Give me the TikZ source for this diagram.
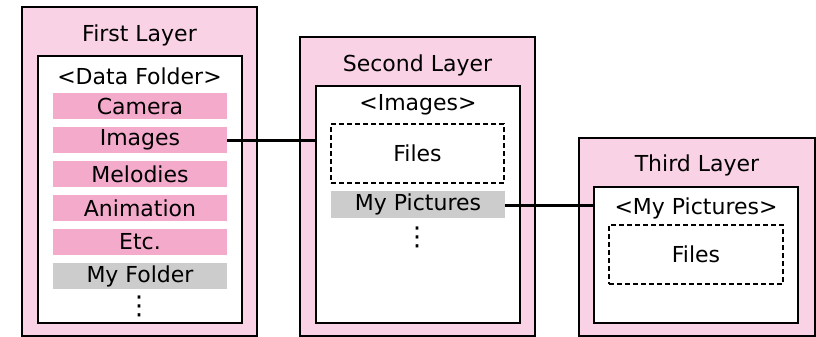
\documentclass[tikz,border=0pt]{standalone}
\usepackage{fontspec}
\setmainfont{DejaVu Sans}
\usepackage{xcolor}
\usepackage{tikz}
\usetikzlibrary{positioning,calc}
\definecolor{layerpink}{HTML}{FAD2E5}
\definecolor{itempink}{HTML}{F4AACB}
\definecolor{itemgray}{HTML}{CCCCCC}
\tikzset{
    layer/.style={rectangle, draw, line width=2pt, fill=layerpink, minimum width=235pt, inner sep=0pt, outer sep=0pt},
    folder/.style={rectangle, draw, line width=2pt, fill=white, minimum width=204pt, inner sep=0pt, outer sep=0pt},
    item/.style={rectangle, fill=itempink, minimum width=174pt, minimum height=26pt, inner sep=0pt, outer sep=0pt},
    myitem/.style={item, fill=itemgray},
    files/.style={rectangle, draw, dashed, dash pattern=on 5pt off 3pt, line width=1.2pt, minimum width=173pt, minimum height=59pt, inner sep=0pt, outer sep=0pt},
    link/.style={draw, line width=3pt},
    label/.style={inner sep=0pt, outer sep=0pt},
    more/.style={inner sep=0pt, outer sep=0pt, font=\fontsize{26}{26}\selectfont}
}

\begin{document}
\begin{tikzpicture}[x=1pt, y=-1pt, font=\fontsize{22}{26}\selectfont, node distance=8pt]
    \useasboundingbox (0,0) rectangle (816,337);

    % First layer
    \node [layer, minimum height=329pt] (layer1) at (139.5,171.5) {};
    \node [folder, minimum height=267pt] (fold1) at (139.5,189.5) {};
    \node [label] (title1) at (139.5,35) {First Layer};
    \node [label] (data) at (139.5,76) {<Data Folder>};
    \node [item] (camera) at (140,106) {Camera};
    \node [item, below=of camera] (images) {Images};
    \node [item, below=of images] (melodies) {Melodies};
    \node [item, below=of melodies] (animation) {Animation};
    \node [item, below=of animation] (etc) {Etc.};
    \node [myitem, below=of etc] (myfolder) {My Folder};
    \node [more] (more1) at (139,306.5) {⋮};

    % Second layer
    \node [layer, minimum height=299pt] (layer2) at (417.5,186.5) {};
    \node [folder, minimum height=237pt] (fold2) at (418,204.5) {};
    \node [label] (title2) at (417.5,65) {Second Layer};
    \node [label] (imgtitle) at (418,105) {<Images>};
    \node [files] (files2) at (417.5,153.5) {Files};
    \node [myitem, minimum height=27pt] (mypictures) at (418,204.5) {My Pictures};
    \node [more] (more2) at (417,237) {⋮};

    % Third layer
    \node [layer, minimum width=236pt, minimum height=198pt] (layer3) at (697,237) {};
    \node [folder, minimum height=136pt] (fold3) at (696,255) {};
    \node [label] (title3) at (697,165) {Third Layer};
    \node [label] (pictitle) at (696,208) {<My Pictures>};
    \node [files, minimum width=174pt] (files3) at (696,254.5) {Files};

    % Links
    \path [link] (images.east) -- (images.east -| fold2.west);
    \path [link] ($(mypictures.east)+(0,1)$) -- ($(mypictures.east -| fold3.west)+(0,1)$);
\end{tikzpicture}
\end{document}
